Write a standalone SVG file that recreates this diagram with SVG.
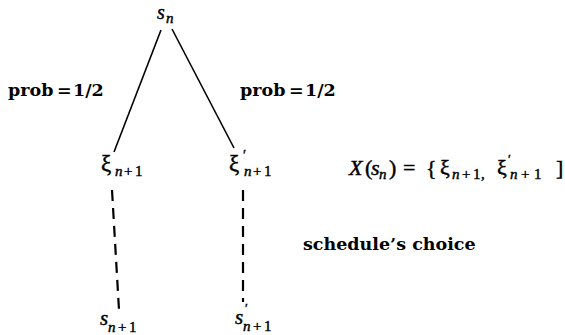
<svg xmlns="http://www.w3.org/2000/svg" width="565" height="335" viewBox="0 0 565 335">
<style>
.m{font-family:"Liberation Serif",serif;font-style:italic;fill:#000;stroke:#000;stroke-width:0.45}
.r{font-family:"Liberation Serif",serif;font-style:normal;fill:#000;stroke:#000;stroke-width:0.45}
.b{font-family:"DejaVu Serif",serif;font-weight:bold;fill:#000}
.sol{stroke:#000;stroke-width:1.6;fill:none}
.dash{stroke:#000;stroke-width:2.2;fill:none;stroke-dasharray:11 7}
</style>
<rect width="565" height="335" fill="#fff"/>
<g id="connectors">
<line class="sol" x1="161" y1="30" x2="114" y2="152"/>
<line class="sol" x1="172" y1="29" x2="234" y2="148"/>
<line class="dash" x1="112" y1="190" x2="119" y2="310"/>
<line class="dash" x1="243" y1="190" x2="243" y2="302"/>
</g>
<g id="node-sn">
<text class="m" x="157" y="19" font-size="20">s</text>
<text class="m" x="166" y="23" font-size="15">n</text>
</g>
<g id="node-xi">
<text class="r" x="101" y="171" font-size="23">ξ</text>
<text class="m" font-size="15" y="176"><tspan x="115">n</tspan><tspan x="124" class="r">+</tspan><tspan x="135" class="r">1</tspan></text>
</g>
<g id="node-xi-prime">
<text class="r" x="229" y="171" font-size="23">ξ</text>
<text class="r" x="243" y="160" font-size="14">′</text>
<text class="m" font-size="15" y="176"><tspan x="244">n</tspan><tspan x="253" class="r">+</tspan><tspan x="264" class="r">1</tspan></text>
</g>
<g id="node-s-next">
<text class="m" x="100" y="325" font-size="21">s</text>
<text class="m" font-size="15" y="332"><tspan x="108">n</tspan><tspan x="118" class="r">+</tspan><tspan x="129" class="r">1</tspan></text>
</g>
<g id="node-s-next-prime">
<text class="m" x="235" y="324" font-size="21">s</text>
<text class="r" x="245" y="312" font-size="13">′</text>
<text class="m" font-size="15" y="331"><tspan x="243">n</tspan><tspan x="253" class="r">+</tspan><tspan x="264" class="r">1</tspan></text>
</g>
<g id="labels">
<text class="b" font-size="17.5" y="96"><tspan x="8">prob</tspan><tspan x="57">=</tspan><tspan x="73">1/2</tspan></text>
<text class="b" font-size="17.5" y="96"><tspan x="240">prob</tspan><tspan x="289">=</tspan><tspan x="305">1/2</tspan></text>
<text class="b" font-size="17.5" x="303" y="250">schedule’s choice</text>
<text font-size="22" y="175"><tspan class="m" x="349">X</tspan><tspan class="r" x="365">(</tspan><tspan class="m" x="371">s</tspan><tspan class="m" x="379" dy="4" font-size="15">n</tspan><tspan class="r" x="389" dy="-4">)</tspan><tspan class="r" x="403">=</tspan><tspan class="r" x="426">{</tspan><tspan class="r" x="440">ξ</tspan><tspan class="m" x="452" dy="4" font-size="15">n</tspan><tspan class="r" x="462" font-size="15">+</tspan><tspan class="r" x="473" font-size="15">1</tspan><tspan class="r" x="481" font-size="15">,</tspan><tspan class="r" x="497" dy="-4">ξ</tspan><tspan class="r" x="508" dy="-12" font-size="13">′</tspan><tspan class="m" x="510" dy="16" font-size="15">n</tspan><tspan class="r" x="521" font-size="15">+</tspan><tspan class="r" x="534" font-size="15">1</tspan><tspan class="r" x="556" dy="-4">]</tspan></text>
</g>
</svg>
